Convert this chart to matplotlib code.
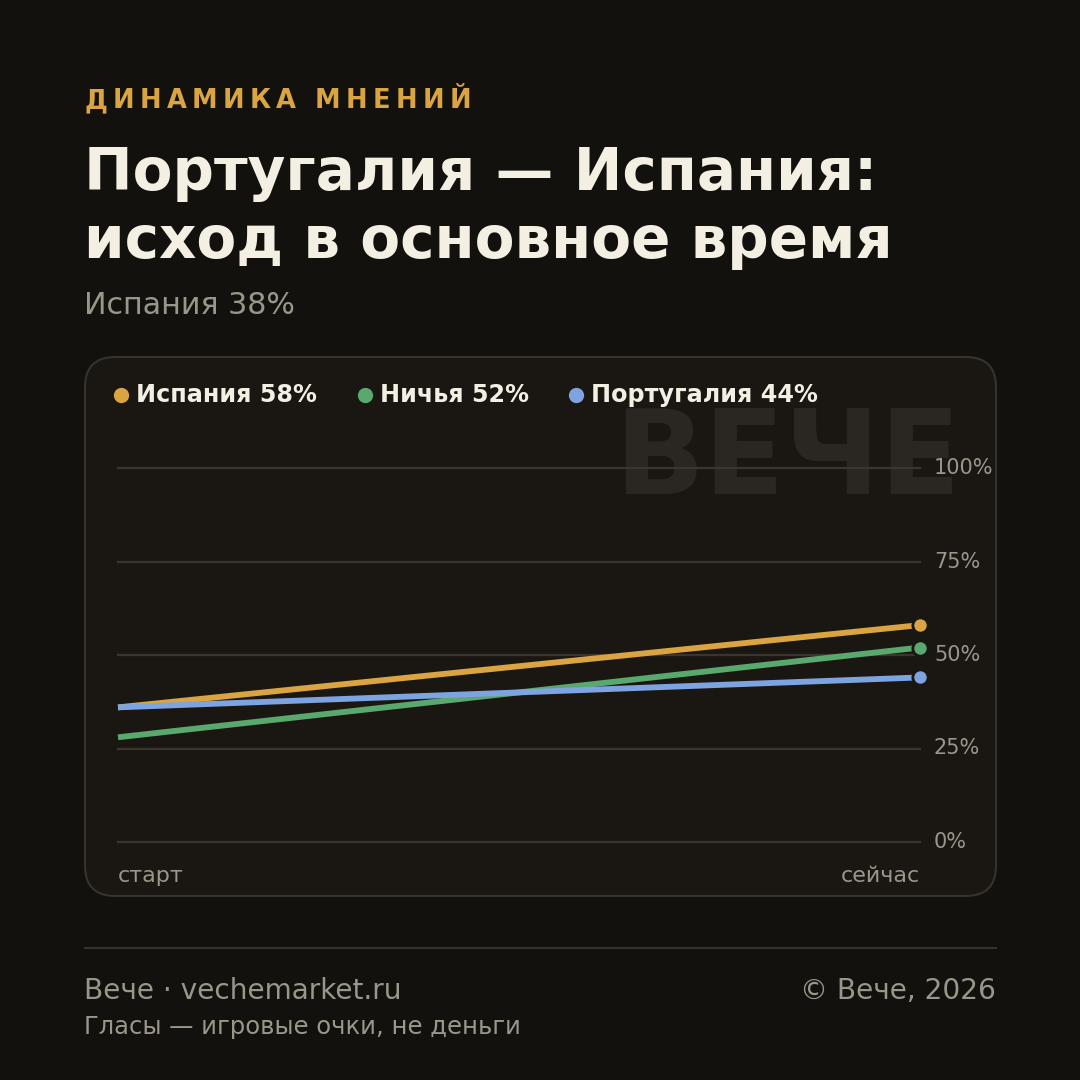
import matplotlib
matplotlib.use("Agg")
import matplotlib.pyplot as plt
from matplotlib.patches import FancyBboxPatch
from matplotlib.lines import Line2D

# ---- data ----
series_names = ["Испания", "Ничья", "Португалия"]
start_values = [36, 28, 36]
end_values = [58, 52, 44]
x_labels = ["старт", "сейчас"]
y_ticks = [0, 25, 50, 75, 100]
y_tick_labels = ["0%", "25%", "50%", "75%", "100%"]
colors = ["#d9a441", "#59a86d", "#7ea3e1"]

BG = "#12110e"
CARD = "#1a1713"
BORDER = "#37332c"
GRID = "#3a362f"
TITLE = "#f3efe3"
GRAY = "#9b968a"
FONT = "DejaVu Sans"

W = H = 1080
fig = plt.figure(figsize=(10.8, 10.8), dpi=100)
fig.patch.set_facecolor(BG)

def fx(x):
    return x / W

def fy(y):
    return 1 - y / H

# card
card = FancyBboxPatch((fx(85), fy(896)), fx(996) - fx(85), fy(357) - fy(896),
                      boxstyle="round,pad=0,rounding_size=0.028",
                      transform=fig.transFigure, facecolor=CARD, edgecolor=BORDER,
                      linewidth=1.5, zorder=-2)
fig.patches.append(card)

# header: letter-spaced kicker
kicker = "ДИНАМИКА МНЕНИЙ"
renderer = fig.canvas.get_renderer()
x = 85
for ch in kicker:
    t = fig.text(fx(x), fy(101), ch, fontsize=18.5, fontweight="bold", color="#d9a441",
                 family=FONT, va="center", ha="left")
    w = t.get_window_extent(renderer=renderer).width if ch != " " else 9
    x += w + 5.2

fig.text(fx(84), fy(173), "Португалия — Испания:", fontsize=41.8, fontweight="bold",
         color=TITLE, family=FONT, va="center", ha="left")
fig.text(fx(84), fy(242), "исход в основное время", fontsize=41.8, fontweight="bold",
         color=TITLE, family=FONT, va="center", ha="left")
fig.text(fx(84), fy(306), "Испания 38%", fontsize=21.7, color=GRAY, family=FONT,
         va="center", ha="left")

# watermark
fig.text(fx(961), fy(461), "ВЕЧЕ", fontsize=85, fontweight="bold", color="#2a2722",
         family=FONT, va="center", ha="right", zorder=-1)

# legend
leg_x = [121, 365, 576]
for name, val, c, lx in zip(series_names, end_values, colors, leg_x):
    fig.lines.append(Line2D([fx(lx)], [fy(395)], transform=fig.transFigure, marker="o",
                            markersize=11, color=c, markeredgewidth=0))
    fig.text(fx(lx + 15), fy(395), f"{name} {val}%", fontsize=17.2, fontweight="bold",
             color=TITLE, family=FONT, va="center", ha="left")

# axes
ax = fig.add_axes([fx(118), fy(842), fx(920) - fx(118), fy(468) - fy(842)])
ax.set_zorder(2)
ax.set_facecolor("none")
ax.set_xlim(0, 1)
ax.set_ylim(0, 100)
for s in ax.spines.values():
    s.set_visible(False)
ax.set_xticks([])
ax.set_yticks([])
for yt, lab in zip(y_ticks, y_tick_labels):
    ax.axhline(yt, color=GRID, linewidth=1.6, zorder=1, clip_on=False)
    ax.text(1.0 + 14 / 802, yt, lab, transform=ax.get_yaxis_transform(), fontsize=15,
            color=GRAY, family=FONT, va="center", ha="left")

for s0, s1, c in zip(start_values, end_values, colors):
    ax.plot([0, 1], [s0, s1], color=c, linewidth=4.2, solid_capstyle="butt", zorder=3,
            clip_on=False)
for s1, c in zip(end_values, colors):
    ax.plot([1], [s1], marker="o", markersize=11, color=c, markeredgecolor=CARD,
            markeredgewidth=2, zorder=4, clip_on=False)

fig.text(fx(118), fy(876), x_labels[0], fontsize=16, color=GRAY, family=FONT,
         va="center", ha="left")
fig.text(fx(920), fy(876), x_labels[1], fontsize=16, color=GRAY, family=FONT,
         va="center", ha="right")

# footer
fig.lines.append(Line2D([fx(85), fx(996)], [fy(948), fy(948)], transform=fig.transFigure,
                        color=BORDER, linewidth=1.5))
fig.text(fx(84), fy(991), "Вече · vechemarket.ru", fontsize=20.2, color=GRAY, family=FONT,
         va="center", ha="left")
fig.text(fx(996), fy(991), "© Вече, 2026", fontsize=20.2, color=GRAY, family=FONT,
         va="center", ha="right")
fig.text(fx(84), fy(1027), "Гласы — игровые очки, не деньги", fontsize=17.5, color=GRAY,
         family=FONT, va="center", ha="left")

fig.savefig("out.png", dpi=100, facecolor=BG)
